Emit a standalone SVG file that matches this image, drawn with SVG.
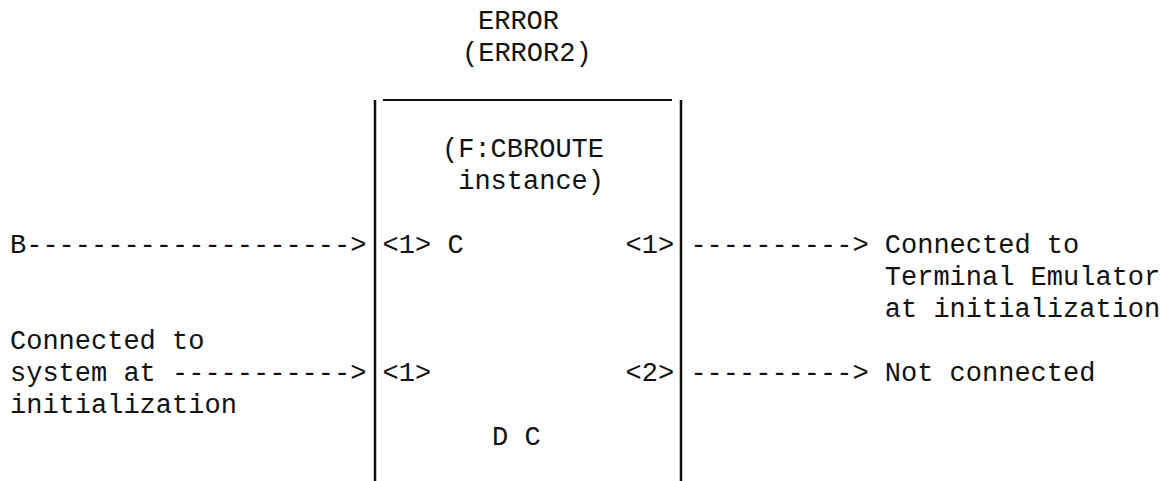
<svg xmlns="http://www.w3.org/2000/svg" width="1166" height="481" viewBox="0 0 1166 481">
<style>
text{font-family:"Liberation Mono","DejaVu Sans Mono",monospace;font-size:27px;fill:#111}
.ln{stroke:#111;fill:none}
</style>
<rect width="1166" height="481" fill="#fff"/>
<g id="title">
<text x="478" y="29">ERROR</text>
<text x="462" y="61">(ERROR2)</text>
</g>
<g id="block">
<line class="ln" x1="383" y1="100" x2="672" y2="100" stroke-width="2"/>
<line class="ln" x1="375" y1="100" x2="375" y2="481" stroke-width="2.5"/>
<line class="ln" x1="681" y1="100" x2="681" y2="481" stroke-width="2.5"/>
<text x="442" y="157">(F:CBROUTE</text>
<text x="458.2" y="189">instance)</text>
<text x="382.6" y="253">&lt;1&gt; C</text>
<text x="625.6" y="253">&lt;1&gt;</text>
<text x="382.6" y="381">&lt;1&gt;</text>
<text x="625.6" y="381">&lt;2&gt;</text>
<text x="492" y="445">D C</text>
</g>
<g id="input-b">
<text x="10" y="253">B</text>
</g>
<g id="input-system">
<text x="10" y="349">Connected to</text>
<text x="10" y="381">system at</text>
<text x="10" y="413">initialization</text>
</g>
<g id="output-terminal">
<text x="884.8" y="253">Connected to</text>
<text x="884.8" y="285">Terminal Emulator</text>
<text x="884.8" y="317">at initialization</text>
</g>
<g id="output-none">
<text x="884.8" y="381">Not connected</text>
</g>
<g id="connectors">
<text x="26.2" y="253">--------------------&gt;</text>
<text x="172" y="381">-----------&gt;</text>
<text x="690.4" y="253">----------&gt;</text>
<text x="690.4" y="381">----------&gt;</text>
</g>
</svg>
